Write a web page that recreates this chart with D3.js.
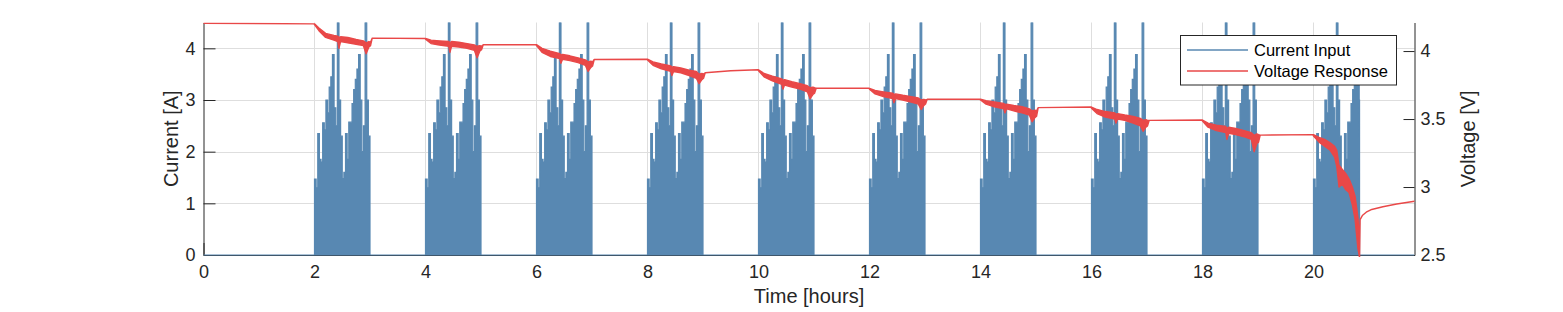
<!DOCTYPE html>
<html>
<head>
<meta charset="utf-8">
<script src="https://cdn.jsdelivr.net/npm/d3@7"></script>
<style>
  html, body { margin: 0; padding: 0; background: #fff; }
  svg { display: block; }
  text { font-family: "Liberation Sans", Arial, Helvetica, sans-serif; }
</style>
</head>
<body>
<svg id="chart" width="1563" height="312"></svg>
<script>
// ---------------- data ----------------
const xTicks = [0, 2, 4, 6, 8, 10, 12, 14, 16, 18, 20];
const yLeftTicks = [0, 1, 2, 3, 4];
const yRightTicks = [2.5, 3, 3.5, 4];
const yRightTickLabels = ["2.5", "3", "3.5", "4"];
const legendLabels = ["Current Input", "Voltage Response"];

// discharge blocks (hours)
const blockStart = [2, 4, 6, 8, 10, 12, 14, 16, 18, 20];
const blockEnd   = [3, 5, 7, 9, 11, 13, 15, 17, 19, 20.83];
// current profile inside one block, 34 equal slots over one hour (A)
const pulseProfile = [1.47, 1.30, 2.35, 1.85, 1.80, 2.56, 2.42, 3.00, 2.75, 3.25,
                      3.45, 3.88, 2.85, 2.50, 5.00, 3.00, 2.30, 1.48, 1.60, 2.35,
                      1.85, 2.57, 2.57, 2.93, 3.20, 3.40, 3.60, 3.88, 3.00, 2.00,
                      2.50, 5.00, 3.00, 2.30];
const pulseSlotHours = 1 / 34;
const timeEnd = 21.82;

// voltage response: time (h), upper and lower edge of the noisy trace (V)
const voltTime = [
  0.00, 1.99,
  2.00, 2.08, 2.20, 2.35, 2.42, 2.44, 2.47, 2.60, 2.75, 2.88, 2.93, 2.98, 3.01, 3.04, 3.99,
  4.00, 4.10, 4.25, 4.42, 4.44, 4.47, 4.60, 4.75, 4.88, 4.93, 4.98, 5.01, 5.04, 5.99,
  6.00, 6.10, 6.25, 6.42, 6.44, 6.47, 6.60, 6.75, 6.88, 6.93, 6.98, 7.01, 7.04, 7.99,
  8.00, 8.10, 8.25, 8.42, 8.44, 8.47, 8.60, 8.75, 8.88, 8.93, 8.98, 9.01, 9.04, 9.50, 9.99,
  10.00, 10.10, 10.25, 10.42, 10.44, 10.47, 10.60, 10.75, 10.88, 10.93, 10.98, 11.01, 11.04, 11.99,
  12.00, 12.10, 12.25, 12.42, 12.44, 12.47, 12.60, 12.75, 12.88, 12.93, 12.98, 13.01, 13.04, 13.99,
  14.00, 14.10, 14.25, 14.42, 14.44, 14.47, 14.60, 14.75, 14.88, 14.93, 14.98, 15.01, 15.04, 15.99,
  16.00, 16.10, 16.25, 16.42, 16.44, 16.47, 16.60, 16.75, 16.88, 16.93, 16.98, 17.01, 17.04, 17.99,
  18.00, 18.10, 18.25, 18.42, 18.44, 18.47, 18.60, 18.75, 18.88, 18.93, 18.98, 19.01, 19.04, 19.99,
  20.00, 20.10, 20.20, 20.30, 20.38, 20.42, 20.46, 20.52, 20.58, 20.64, 20.70, 20.75, 20.80, 20.83,
  20.84, 20.88, 20.95, 21.05, 21.25, 21.50, 21.82
];
const voltHigh = [
  4.205, 4.200,
  4.200, 4.170, 4.130, 4.115, 4.110, 4.100, 4.105, 4.100, 4.085, 4.075, 4.060, 4.070, 4.065, 4.095, 4.092,
  4.093, 4.080, 4.075, 4.070, 4.060, 4.070, 4.065, 4.055, 4.045, 4.035, 4.040, 4.035, 4.046, 4.047,
  4.047, 4.020, 4.000, 3.980, 3.970, 3.975, 3.965, 3.950, 3.935, 3.920, 3.925, 3.920, 3.938, 3.940,
  3.940, 3.920, 3.905, 3.890, 3.880, 3.885, 3.875, 3.860, 3.850, 3.830, 3.835, 3.830, 3.840, 3.855, 3.862,
  3.862, 3.835, 3.815, 3.795, 3.785, 3.790, 3.775, 3.760, 3.745, 3.730, 3.735, 3.730, 3.726, 3.727,
  3.726, 3.710, 3.700, 3.690, 3.680, 3.685, 3.675, 3.665, 3.655, 3.640, 3.645, 3.640, 3.645, 3.646,
  3.646, 3.635, 3.625, 3.615, 3.605, 3.610, 3.600, 3.590, 3.575, 3.560, 3.565, 3.560, 3.584, 3.588,
  3.588, 3.570, 3.555, 3.545, 3.535, 3.540, 3.530, 3.520, 3.505, 3.490, 3.495, 3.490, 3.490, 3.493,
  3.493, 3.470, 3.455, 3.445, 3.430, 3.440, 3.430, 3.415, 3.400, 3.380, 3.390, 3.385, 3.382, 3.385,
  3.385, 3.365, 3.350, 3.325, 3.300, 3.270, 3.160, 3.130, 3.100, 3.060, 3.000, 2.930, 2.780, 2.600,
  2.760, 2.790, 2.815, 2.835, 2.855, 2.875, 2.895
];
const voltLow = [
  4.205, 4.200,
  4.195, 4.150, 4.100, 4.080, 4.070, 4.020, 4.070, 4.060, 4.050, 4.040, 3.980, 4.030, 4.040, 4.095, 4.092,
  4.088, 4.055, 4.045, 4.035, 3.990, 4.035, 4.030, 4.020, 4.005, 3.950, 4.000, 4.010, 4.046, 4.047,
  4.040, 3.990, 3.960, 3.945, 3.910, 3.940, 3.930, 3.915, 3.895, 3.850, 3.880, 3.890, 3.938, 3.940,
  3.935, 3.895, 3.870, 3.850, 3.820, 3.850, 3.840, 3.820, 3.800, 3.760, 3.790, 3.800, 3.840, 3.855, 3.862,
  3.855, 3.810, 3.780, 3.755, 3.720, 3.750, 3.735, 3.720, 3.700, 3.650, 3.680, 3.690, 3.726, 3.727,
  3.720, 3.685, 3.665, 3.650, 3.620, 3.650, 3.640, 3.625, 3.610, 3.570, 3.600, 3.610, 3.645, 3.646,
  3.640, 3.610, 3.590, 3.575, 3.545, 3.575, 3.560, 3.545, 3.530, 3.480, 3.510, 3.520, 3.584, 3.588,
  3.580, 3.540, 3.515, 3.500, 3.470, 3.500, 3.490, 3.470, 3.450, 3.410, 3.440, 3.450, 3.490, 3.493,
  3.485, 3.440, 3.415, 3.400, 3.350, 3.395, 3.385, 3.370, 3.350, 3.260, 3.320, 3.330, 3.382, 3.385,
  3.375, 3.330, 3.300, 3.270, 3.220, 3.150, 3.000, 3.020, 2.980, 2.960, 2.870, 2.760, 2.550, 2.480,
  2.760, 2.790, 2.815, 2.835, 2.855, 2.875, 2.895
];

// ---------------- layout / style ----------------
const plot = { left: 203.5, right: 1414.5, top: 22.5, bottom: 255 };
const blue = "#5888b2";
const red = "#e94848";
const axisColor = "#262626";
const gridColor = "#dedede";
const tickFont = 18, labelFont = 20, legendFont = 16.5;
const tickLen = 12;
const fontFam = '"Liberation Sans", Arial, Helvetica, sans-serif';

const svg = d3.select("#chart");

const x = d3.scaleLinear().domain([0, timeEnd]).range([plot.left, plot.right]);
const yL = d3.scaleLinear().domain([0, 4.5]).range([plot.bottom, plot.top]);
const yR = d3.scaleLinear().domain([2.5, 4.21]).range([plot.bottom, plot.top]);

svg.append("defs").append("clipPath").attr("id", "clip")
  .append("rect")
  .attr("x", plot.left).attr("y", plot.top)
  .attr("width", plot.right - plot.left).attr("height", plot.bottom - plot.top + 2);

// grid
const grid = svg.append("g");
grid.selectAll("line.gx").data(xTicks.filter(d => d > 0)).join("line")
  .attr("x1", d => Math.round(x(d)) + 0.5).attr("x2", d => Math.round(x(d)) + 0.5)
  .attr("y1", plot.top).attr("y2", plot.bottom)
  .attr("stroke", gridColor).attr("stroke-width", 1);
grid.selectAll("line.gy").data(yLeftTicks.filter(d => d > 0)).join("line")
  .attr("y1", d => Math.round(yL(d)) + 0.5).attr("y2", d => Math.round(yL(d)) + 0.5)
  .attr("x1", plot.left).attr("x2", plot.right)
  .attr("stroke", gridColor).attr("stroke-width", 1);

// axes (inward ticks)
const axLeft = d3.axisLeft(yL).tickValues(yLeftTicks).tickFormat(d3.format("d"))
  .tickSizeInner(-tickLen).tickSizeOuter(0).tickPadding(8);
const axRight = d3.axisRight(yR).tickValues(yRightTicks).tickFormat((d, i) => yRightTickLabels[i])
  .tickSizeInner(-tickLen + 1).tickSizeOuter(0).tickPadding(6);
const axBottom = d3.axisBottom(x).tickValues(xTicks).tickFormat(d3.format("d"))
  .tickSizeInner(-tickLen).tickSizeOuter(0).tickPadding(10);

function styleAxis(g) {
  g.attr("font-family", null).attr("font-size", null);
  g.selectAll("path.domain").attr("stroke", axisColor).attr("stroke-width", 1);
  g.selectAll(".tick line").attr("stroke", axisColor).attr("stroke-width", 1);
  g.selectAll(".tick text").attr("fill", axisColor)
    .style("font-size", tickFont + "px").style("font-family", fontFam);
}
svg.append("g").attr("transform", `translate(${plot.left},0)`).call(axLeft).call(styleAxis);
svg.append("g").attr("transform", `translate(${plot.right},0)`).call(axRight).call(styleAxis);
svg.append("g").attr("transform", `translate(0,${plot.bottom})`).call(axBottom).call(styleAxis);

// current series built from blocks and the read profile
const currentData = [[0, 0]];
blockStart.forEach((s, b) => {
  pulseProfile.forEach((v, i) => {
    const t = s + i * pulseSlotHours;
    if (t < blockEnd[b]) currentData.push([t, v]);
  });
  currentData.push([blockEnd[b], 0]);
});
currentData.push([timeEnd, 0]);

const dataG = svg.append("g").attr("clip-path", "url(#clip)");

dataG.append("path")
  .datum(currentData)
  .attr("d", d3.area().curve(d3.curveStepAfter)
    .x(d => x(d[0])).y0(yL(0)).y1(d => yL(d[1])))
  .attr("fill", blue).attr("stroke", blue).attr("stroke-width", 1.2)
  .attr("stroke-linejoin", "miter");

// voltage band
const voltData = voltTime.map((t, i) => ({ t, hi: voltHigh[i], lo: voltLow[i] }));
dataG.append("path")
  .datum(voltData)
  .attr("d", d3.area().x(d => x(d.t)).y0(d => yR(d.lo)).y1(d => yR(d.hi)))
  .attr("fill", red).attr("stroke", red).attr("stroke-width", 1.4)
  .attr("stroke-linejoin", "round");

// axis labels
svg.append("text")
  .attr("x", (plot.left + plot.right) / 2).attr("y", 303)
  .attr("text-anchor", "middle").attr("fill", axisColor)
  .style("font-size", labelFont + "px").text("Time [hours]");
svg.append("text")
  .attr("transform", `translate(178,${(plot.top + plot.bottom) / 2}) rotate(-90)`)
  .attr("text-anchor", "middle").attr("fill", axisColor)
  .style("font-size", labelFont + "px").text("Current [A]");
svg.append("text")
  .attr("transform", `translate(1475,${(plot.top + plot.bottom) / 2}) rotate(-90)`)
  .attr("text-anchor", "middle").attr("fill", axisColor)
  .style("font-size", labelFont + "px").text("Voltage [V]");

// legend
const lg = svg.append("g");
lg.append("rect").attr("x", 1180.5).attr("y", 35.5).attr("width", 216).attr("height", 49.5)
  .attr("fill", "#fff").attr("stroke", axisColor).attr("stroke-width", 1);
const legendColors = [blue, red];
legendLabels.forEach((lab, i) => {
  const yy = 50 + i * 21;
  lg.append("line").attr("x1", 1187).attr("x2", 1248).attr("y1", yy).attr("y2", yy)
    .attr("stroke", legendColors[i]).attr("stroke-width", 1.5);
  lg.append("text").attr("x", 1254).attr("y", yy).attr("dy", "0.35em")
    .attr("fill", "#000").style("font-size", legendFont + "px").text(lab);
});
</script>
</body>
</html>
